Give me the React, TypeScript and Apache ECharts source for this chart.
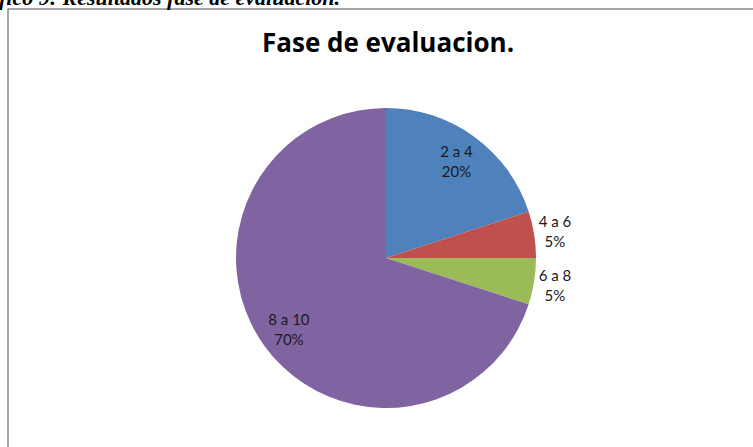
import React, { useEffect, useRef } from "react";
import * as echarts from "echarts";

const categories = ["2 a 4", "4 a 6", "6 a 8", "8 a 10"];
const values = [20, 5, 5, 70];
const colors = ["#4F81BD", "#C0504D", "#9BBB59", "#8064A2"];
const innerLabelled = ["2 a 4", "8 a 10"];
const outerLabelled = ["4 a 6", "6 a 8"];
const titleText = "Fase de evaluacion.";
const captionText = "Gráfico 9: Resultados fase de evaluación.";

export default function App() {
  const ref = useRef<HTMLDivElement>(null);
  useEffect(() => {
    if (!ref.current) return;
    const chart = echarts.init(ref.current, undefined, { renderer: "svg" });
    const center = [386, 258];
    const labelStyle = {
      fontFamily: "Lato, 'Open Sans', sans-serif",
      fontSize: 15,
      lineHeight: 20,
      color: "#1a1a1a",
      align: "center" as const,
      formatter: (p: any) => `${p.name}\n${p.value}%`,
    };
    const base = categories.map((c, i) => ({
      name: c,
      value: values[i],
      itemStyle: { color: colors[i] },
    }));
    const labelData = (names: string[]) =>
      categories.map((c, i) => ({
        name: c,
        value: values[i],
        itemStyle: { color: "rgba(0,0,0,0)" },
        label: { show: names.includes(c) },
      }));
    chart.setOption({
      animation: false,
      graphic: [
        {
          type: "rect",
          shape: { x: 8, y: 9, width: 900, height: 600 },
          style: { fill: "#fff", stroke: "#8a8a8a", lineWidth: 1.5 },
          z: -10,
        },
        {
          type: "text",
          x: 340,
          y: 8,
          style: {
            text: captionText,
            fontFamily: "'Liberation Serif', 'Times New Roman', serif",
            fontWeight: "bold",
            fontStyle: "italic",
            fontSize: 22,
            fill: "#000",
            textAlign: "right",
            textVerticalAlign: "bottom",
          },
        },
      ],
      title: {
        text: titleText,
        left: 257,
        top: 24,
        textStyle: {
          fontFamily: "'Open Sans', Lato, sans-serif",
          fontWeight: "bold",
          fontSize: 26,
          color: "#000",
        },
      },
      series: [
        {
          type: "pie",
          center,
          radius: 150,
          startAngle: 90,
          clockwise: true,
          label: { show: false },
          labelLine: { show: false },
          emphasis: { disabled: true },
          data: base,
        },
        {
          type: "pie",
          center,
          radius: [84, 150],
          startAngle: 90,
          clockwise: true,
          silent: true,
          label: { position: "inside", ...labelStyle },
          labelLine: { show: false },
          emphasis: { disabled: true },
          data: labelData(innerLabelled),
        },
        {
          type: "pie",
          center,
          radius: [150, 186],
          startAngle: 90,
          clockwise: true,
          silent: true,
          label: { position: "inside", ...labelStyle },
          labelLine: { show: false },
          emphasis: { disabled: true },
          data: labelData(outerLabelled),
        },
      ],
    });
    return () => chart.dispose();
  }, []);
  return (
    <div
      ref={ref}
      style={{ position: "absolute", left: 0, top: 0, width: 753, height: 447 }}
    />
  );
}
